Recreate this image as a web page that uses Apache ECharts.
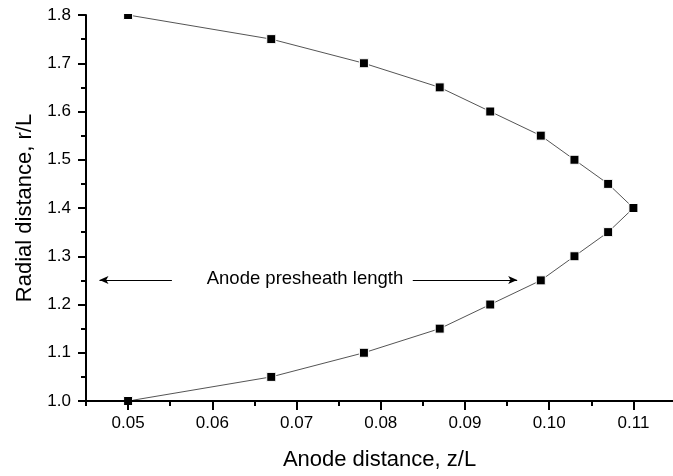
<!DOCTYPE html>
<html>
<head>
<meta charset="utf-8">
<script src="https://cdn.jsdelivr.net/npm/echarts@6/dist/echarts.min.js"></script>
<style>html,body{margin:0;padding:0;background:#fff}#c{width:673px;height:476px}</style>
</head>
<body>
<div id="c"></div>
<script>
// Data
const zValues = [0.050, 0.067, 0.078, 0.087, 0.093, 0.099, 0.103, 0.107, 0.110, 0.107, 0.103, 0.099, 0.093, 0.087, 0.078, 0.067, 0.050];
const rValues = [1.80, 1.75, 1.70, 1.65, 1.60, 1.55, 1.50, 1.45, 1.40, 1.35, 1.30, 1.25, 1.20, 1.15, 1.10, 1.05, 1.00];
const xMajorTicks = [0.05, 0.06, 0.07, 0.08, 0.09, 0.10, 0.11];
const xMinorTicks = [0.045, 0.055, 0.065, 0.075, 0.085, 0.095, 0.105, 0.115];
const annotationText = 'Anode presheath length';
const annotationAt = [0.0710, 1.253];
const leftArrow = [[0.0552, 1.251], [0.0466, 1.251]];
const rightArrow = [[0.0838, 1.251], [0.0962, 1.251]];

const FONT = '"Liberation Sans", Arial, sans-serif';
const chart = echarts.init(document.getElementById('c'), null, {renderer: 'canvas'});
const pts = zValues.map((z, i) => [z, rValues[i]]);

const xMin = 0.045, xMax = 0.1147;
chart.setOption({
  animation: false,
  backgroundColor: '#fff',
  grid: {left: 86, top: 15, right: 0, bottom: 72, containLabel: false},
  xAxis: [{
    type: 'value', min: xMin, max: xMax, zlevel: 2,
    name: 'Anode distance, z/L', nameLocation: 'middle', nameGap: 48,
    nameTextStyle: {fontFamily: FONT, fontSize: 22, color: '#000'},
    axisLine: {show: true, onZero: false, lineStyle: {color: '#000', width: 2}},
    axisTick: {show: true, inside: false, length: 9, lineStyle: {color: '#000', width: 2}, customValues: xMajorTicks},
    axisLabel: {show: true, margin: 14, fontFamily: FONT, fontSize: 17, color: '#000', customValues: xMajorTicks,
      formatter: v => Number(v).toFixed(2)},
    splitLine: {show: false}
  }, {
    type: 'value', min: xMin, max: xMax, position: 'bottom', zlevel: 2,
    axisLine: {show: false},
    axisTick: {show: true, inside: false, length: 5, lineStyle: {color: '#000', width: 2}, customValues: xMinorTicks},
    axisLabel: {show: false},
    splitLine: {show: false}
  }],
  yAxis: {
    type: 'value', min: 1.0, max: 1.8, interval: 0.1, zlevel: 2,
    name: 'Radial distance, r/L', nameLocation: 'middle', nameGap: 50, nameRotate: 90,
    nameTextStyle: {fontFamily: FONT, fontSize: 22, color: '#000'},
    axisLine: {show: true, onZero: false, lineStyle: {color: '#000', width: 2}},
    axisTick: {show: true, inside: false, length: 8, lineStyle: {color: '#000', width: 2}},
    minorTick: {show: true, splitNumber: 2, length: 5, lineStyle: {color: '#000', width: 2}},
    axisLabel: {show: true, margin: 15, fontFamily: FONT, fontSize: 17, color: '#000',
      formatter: v => Number(v).toFixed(1)},
    splitLine: {show: false}, minorSplitLine: {show: false}
  },
  graphic: [
    {type: 'rect', zlevel: 1, shape: {x: 88, y: 0, width: 585, height: 14}, style: {fill: '#fff'}},
    {type: 'rect', zlevel: 1, shape: {x: 88, y: 405, width: 585, height: 10}, style: {fill: '#fff'}}
  ],
  series: [{
    type: 'line', zlevel: 0, z: 2,
    data: pts,
    symbol: 'rect', symbolSize: 9,
    showSymbol: true,
    itemStyle: {color: '#000', borderColor: '#fff', borderWidth: 1},
    lineStyle: {color: '#555', width: 1},
    clip: false,
    markLine: {
      silent: true,
      symbol: ['none', 'arrow'],
      symbolSize: [6, 9],
      label: {show: false},
      lineStyle: {color: '#000', width: 1, type: 'solid'},
      data: [
        [{coord: leftArrow[0]}, {coord: leftArrow[1]}],
        [{coord: rightArrow[0]}, {coord: rightArrow[1]}]
      ]
    },
    markPoint: {
      silent: true,
      symbol: 'circle', symbolSize: 0,
      label: {show: true, position: 'inside', formatter: annotationText, fontFamily: FONT, fontSize: 18.5, color: '#000'},
      data: [{coord: annotationAt}]
    }
  }]
});
</script>
</body>
</html>
